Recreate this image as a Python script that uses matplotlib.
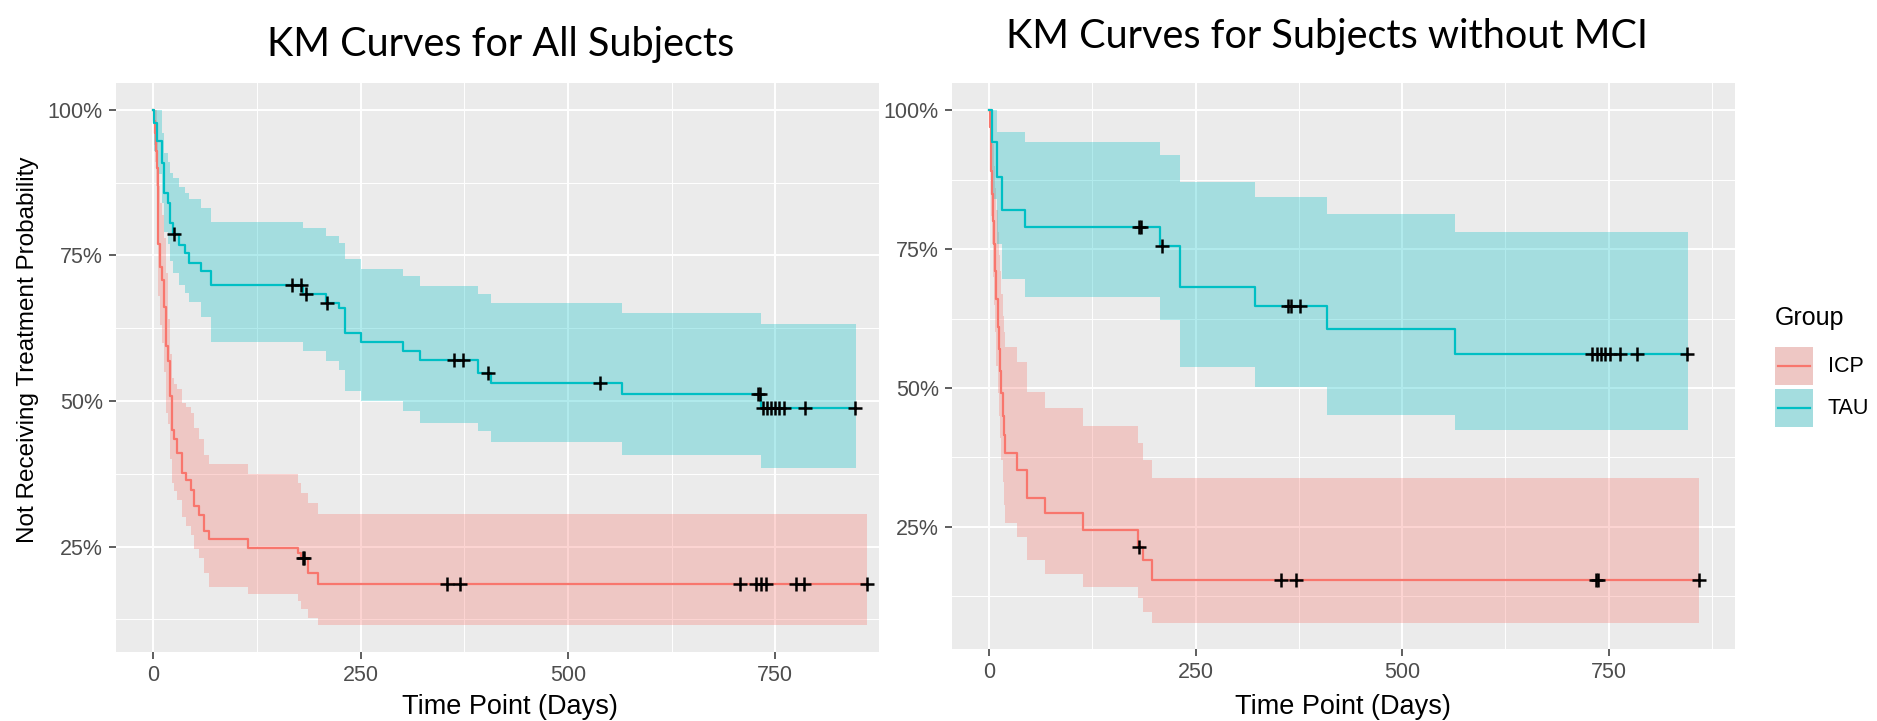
import matplotlib.pyplot as plt
from matplotlib.patches import Rectangle
from matplotlib.lines import Line2D

plt.rcParams['font.family'] = ['Liberation Sans', 'DejaVu Sans']

W, H = 1877, 721
icp_color = '#F8766D'
tau_color = '#00BFC4'

# ---- all subjects (left) ----
all_icp_t = [0, 1, 2, 3, 4, 6, 8, 10, 12.5, 15, 18, 20, 22.5, 25, 28, 34.5, 39.3, 45.3, 49.3, 54.5, 61.4, 67.4, 114.3, 175, 178, 187, 198]
all_icp_s = [1, .98, .96, .93, .90, .77, .73, .708, .662, .594, .568, .508, .451, .434, .411, .377, .365, .348, .319, .305, .276, .263, .248, .239, .231, .205, .185]
all_icp_hi = [1, 1, 1, 1, .97, .87, .84, .82, .78, .72, .64, .58, .54, .53, .52, .497, .49, .48, .454, .434, .408, .391, .375, .359, .342, .324, .306]
all_icp_lo = [1, .94, .91, .87, .83, .68, .63, .60, .55, .48, .46, .40, .36, .345, .33, .30, .285, .27, .245, .23, .205, .181, .168, .156, .142, .128, .115]
all_icp_end = 861
all_icp_cens = [181, 182, 354, 370, 708, 727, 733, 739, 775, 784, 861]

all_tau_t = [0, 1.2, 4.4, 10, 12.4, 17.2, 20, 23.3, 31.3, 38.5, 43.3, 57.4, 69.4, 180.5, 207.8, 223.8, 230.6, 250.7, 301.2, 322, 392, 407.5, 565, 733]
all_tau_s = [1, .977, .947, .909, .857, .840, .806, .786, .768, .754, .737, .723, .699, .683, .668, .660, .617, .601, .585, .570, .548, .531, .512, .488]
all_tau_hi = [1, 1, 1, .96, .926, .911, .891, .883, .868, .857, .846, .831, .808, .797, .784, .771, .743, .727, .714, .698, .684, .668, .651, .633]
all_tau_lo = [1, .93, .89, .84, .79, .77, .74, .72, .70, .685, .67, .645, .602, .585, .568, .554, .517, .500, .482, .463, .448, .429, .407, .385]
all_tau_end = 847
all_tau_cens = [25, 167, 178, 184, 210, 362, 374, 404, 539, 729, 731, 735, 740, 745, 750, 755, 760, 786, 846]

# ---- subjects without MCI (right) ----
nomci_icp_t = [0, 1, 2, 3, 4, 5, 6, 7.5, 9, 10.5, 12, 13.5, 15, 16.5, 18, 19.5, 33.5, 46.4, 67.8, 114.2, 180.8, 186.8, 196.9]
nomci_icp_s = [1, .97, .94, .89, .85, .80, .76, .71, .66, .61, .57, .53, .49, .45, .415, .382, .352, .301, .274, .244, .214, .190, .155]
nomci_icp_hi = [1, 1, 1, 1, .97, .94, .90, .86, .82, .78, .74, .71, .67, .63, .60, .574, .547, .493, .463, .431, .40, .37, .337]
nomci_icp_lo = [1, .91, .87, .81, .76, .70, .65, .60, .54, .49, .45, .41, .37, .33, .29, .256, .231, .19, .165, .142, .121, .097, .077]
nomci_icp_end = 859
nomci_icp_cens = [182, 354, 372, 735, 737, 859]

nomci_tau_t = [0, 3.2, 9.3, 15.3, 43.6, 207, 231, 322, 408.8, 564]
nomci_tau_s = [1, .943, .88, .820, .790, .755, .682, .647, .606, .561]
nomci_tau_hi = [1, 1, .961, .961, .943, .919, .871, .843, .814, .781]
nomci_tau_lo = [1, .84, .76, .697, .664, .622, .538, .502, .452, .424]
nomci_tau_end = 846
nomci_tau_cens = [182, 184, 210, 362, 366, 376, 730, 736, 741, 746, 752, 764, 784, 845]

x_ticks = [0, 250, 500, 750]
y_ticks = [0.25, 0.50, 0.75, 1.00]
y_tick_labels = ['25%', '50%', '75%', '100%']


def px_rect(x0, y0, x1, y1):
    return [x0 / W, 1 - y1 / H, (x1 - x0) / W, (y1 - y0) / H]


def surv_at(t, s, x):
    v = s[0]
    for ti, si in zip(t, s):
        if ti <= x:
            v = si
    return v


def km(ax, t, s, lo, hi, end, cens, color):
    tt = t + [end]
    ax.fill_between(tt, lo + [lo[-1]], hi + [hi[-1]], step='post', color=color, alpha=0.3, lw=0)
    ax.step(tt, s + [s[-1]], where='post', color=color, lw=1.6)
    return [(c, surv_at(t, s, c)) for c in cens]


def style(ax, xlim, ylim):
    ax.set_facecolor('#EBEBEB')
    for sp in ax.spines.values():
        sp.set_visible(False)
    ax.set_xlim(*xlim)
    ax.set_ylim(*ylim)
    ax.set_xticks(x_ticks)
    ax.set_xticks([125, 375, 625, 875], minor=True)
    ax.set_yticks(y_ticks)
    ax.set_yticklabels(y_tick_labels)
    ax.set_yticks([0.125, 0.375, 0.625, 0.875], minor=True)
    ax.grid(which='major', color='white', lw=1.4)
    ax.grid(which='minor', color='white', lw=0.7)
    ax.set_axisbelow(True)
    ax.tick_params(which='major', length=5, width=1.1, color='#333333',
                   labelcolor='#4D4D4D', labelsize=15.5, pad=4.5)
    ax.tick_params(which='minor', length=0)


fig = plt.figure(figsize=(W / 100, H / 100), dpi=100)

ax1 = fig.add_axes(px_rect(116, 83, 879, 652))
m1 = km(ax1, all_icp_t, all_icp_s, all_icp_lo, all_icp_hi, all_icp_end, all_icp_cens, icp_color)
m2 = km(ax1, all_tau_t, all_tau_s, all_tau_lo, all_tau_hi, all_tau_end, all_tau_cens, tau_color)
for c, v in m1 + m2:
    ax1.plot(c, v, '+', color='black', ms=10, mew=1.8)
style(ax1, (-45, 871), (0.069, 1.046))

ax2 = fig.add_axes(px_rect(952, 83, 1735, 649))
m1 = km(ax2, nomci_icp_t, nomci_icp_s, nomci_icp_lo, nomci_icp_hi, nomci_icp_end, nomci_icp_cens, icp_color)
m2 = km(ax2, nomci_tau_t, nomci_tau_s, nomci_tau_lo, nomci_tau_hi, nomci_tau_end, nomci_tau_cens, tau_color)
for c, v in m1 + m2:
    ax2.plot(c, v, '+', color='black', ms=10, mew=1.8)
style(ax2, (-44.8, 903), (0.030, 1.049))

# titles (Calibri-like)
fig.text(501 / W, 1 - 56 / H, 'KM Curves for All Subjects', ha='center', va='baseline',
         fontsize=28.5, family=['Lato', 'DejaVu Sans'])
fig.text(1327 / W, 1 - 48 / H, 'KM Curves for Subjects without MCI', ha='center', va='baseline',
         fontsize=28.5, family=['Lato', 'DejaVu Sans'])

# axis titles
fig.text(510 / W, 1 - 707 / H, 'Time Point (Days)', ha='center', va='center', fontsize=19.5)
fig.text(1343 / W, 1 - 707 / H, 'Time Point (Days)', ha='center', va='center', fontsize=19.5)
fig.text(28 / W, 1 - 350 / H, 'Not Receiving Treatment Probability', ha='center', va='center',
         rotation=90, fontsize=17.5)

# legend
fig.text(1775 / W, 1 - 318 / H, 'Group', ha='left', va='center', fontsize=18)
for (name, col, y0) in [('ICP', icp_color, 347), ('TAU', tau_color, 389)]:
    r = px_rect(1775, y0, 1813, y0 + 38)
    fig.add_artist(Rectangle((r[0], r[1]), r[2], r[3], transform=fig.transFigure,
                             facecolor='#EBEBEB', edgecolor='none'))
    fig.add_artist(Rectangle((r[0], r[1]), r[2], r[3], transform=fig.transFigure,
                             facecolor=col, alpha=0.3, edgecolor='none'))
    yc = 1 - (y0 + 19) / H
    fig.add_artist(Line2D([1778 / W, 1810 / W], [yc, yc], transform=fig.transFigure,
                          color=col, lw=1.6))
    fig.text(1828 / W, yc, name, ha='left', va='center', fontsize=15.5)

fig.savefig('out.png', dpi=100)
